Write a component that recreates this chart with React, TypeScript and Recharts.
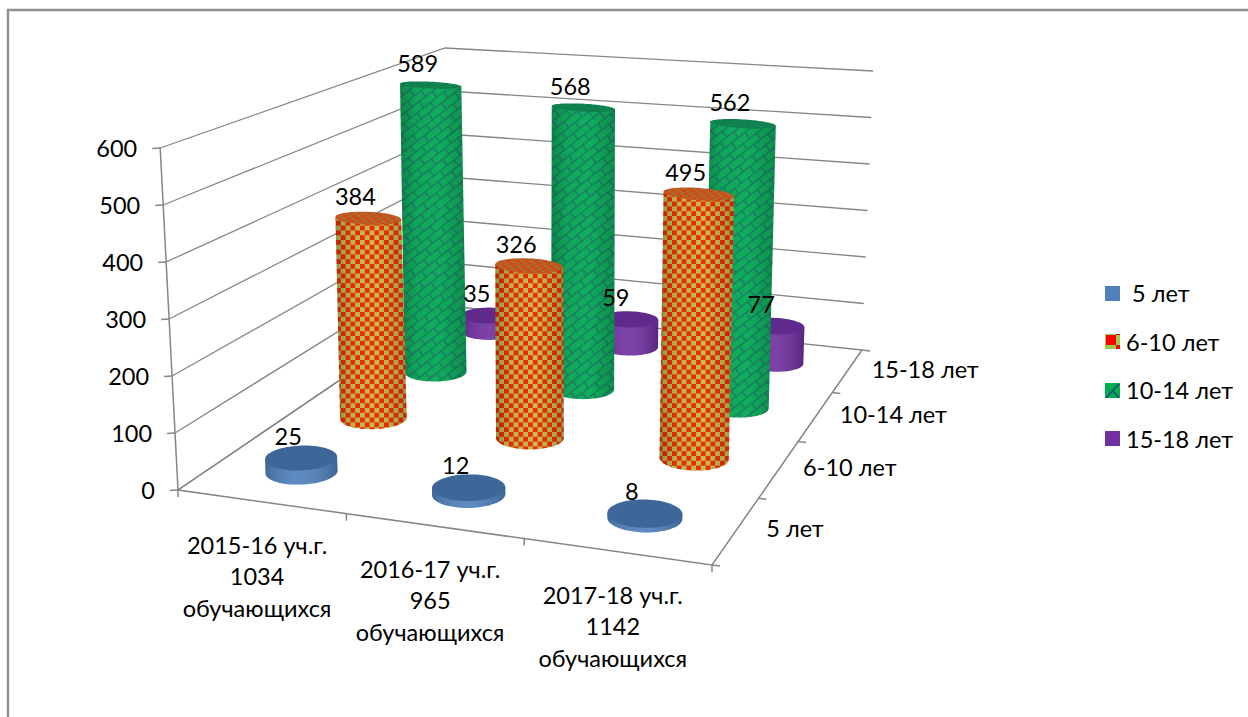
import { Bar, BarChart, CartesianGrid, Customized, LabelList, Legend, XAxis, YAxis } from "recharts";

const categories = ["2015-16 уч.г.", "2016-17 уч.г.", "2017-18 уч.г."];
const pupils = ["1034", "965", "1142"];
const pupilsWord = "обучающихся";
const ageGroups = [" 5 лет", "6-10 лет", "10-14 лет", "15-18 лет"];
const age5 = [25, 12, 8];
const age6to10 = [384, 326, 495];
const age10to14 = [589, 568, 562];
const age15to18 = [35, 59, 77];
const yTicks = [0, 100, 200, 300, 400, 500, 600];

const data = categories.map((name, i) => ({
  name,
  pupils: pupils[i],
  age5: age5[i],
  age6to10: age6to10[i],
  age10to14: age10to14[i],
  age15to18: age15to18[i],
}));

const W = 1248;
const H = 717;
const FONT = "Lato, 'Open Sans', sans-serif";
const FONT_SIZE = 23.5;
const LINE = "#868686";
const BAR_SIZE = 165;
const DEPTH_RADIUS = 0.052;

type Pt = [number, number];

// square -> quad homography, the flat recharts plot gets warped through this
const quadMap = (p0: Pt, p1: Pt, p2: Pt, p3: Pt) => {
  const dx1 = p1[0] - p2[0];
  const dx2 = p3[0] - p2[0];
  const sx = p0[0] - p1[0] + p2[0] - p3[0];
  const dy1 = p1[1] - p2[1];
  const dy2 = p3[1] - p2[1];
  const sy = p0[1] - p1[1] + p2[1] - p3[1];
  const den = dx1 * dy2 - dx2 * dy1;
  const g = (sx * dy2 - dx2 * sy) / den;
  const h = (dx1 * sy - sx * dy1) / den;
  const a = p1[0] - p0[0] + g * p1[0];
  const b = p3[0] - p0[0] + h * p3[0];
  const d = p1[1] - p0[1] + g * p1[1];
  const e = p3[1] - p0[1] + h * p3[1];
  return (u: number, v: number): Pt => {
    const w = g * u + h * v + 1;
    return [(a * u + b * v + p0[0]) / w, (d * u + e * v + p0[1]) / w];
  };
};

const floorMap = quadMap([178, 490], [712, 565], [862, 350], [449, 306]);

// wall height in px at the floor corners, verticals lean away from x=566
const project = (u: number, v: number, t: number): Pt => {
  const [x, y] = floorMap(u, v);
  const front = 342 + (348 - 342) * u;
  const back = 258 + (279 - 258) * u;
  const h = front + (back - front) * v;
  const lean = 0.000134 * (x - 566);
  return [x + lean * h * t, y - h * t];
};

const toPath = (pts: Pt[]) => pts.map((p, i) => `${i ? "L" : "M"}${p[0].toFixed(1)} ${p[1].toFixed(1)}`).join(" ");

const toU = (x: number) => (x - 1) / W;

const makeCylinder = (depth: number, sideFill: string, topFill: string, glossId: string) => (props: any) => {
  const { x, y, width, height } = props;
  const u = toU(x + width / 2);
  const ru = width / W / 2;
  const v = (depth + 0.5) / 4;
  const tTop = 1 - y / H;
  const tBase = 1 - (y + height) / H;
  const ring = (t: number) => {
    const pts: Pt[] = [];
    for (let i = 0; i < 72; i++) {
      const a = (i / 72) * Math.PI * 2;
      // ellipses get flatter going up towards eye level
      pts.push(project(u + ru * Math.cos(a), v + DEPTH_RADIUS * (1 - 0.4 * t) * Math.sin(a), t));
    }
    return pts;
  };
  const topRing = ring(tTop);
  const baseRing = ring(tBase);
  const extreme = (pts: Pt[], sign: number) =>
    pts.reduce((best, p, i) => (sign * p[0] > sign * pts[best][0] ? i : best), 0);
  const il = extreme(baseRing, -1);
  const ir = extreme(baseRing, 1);
  // front arc of the base, the one hanging lower on screen
  const walk = (step: number) => {
    const out: Pt[] = [];
    for (let i = il; ; i = (i + step + 72) % 72) {
      out.push(baseRing[i]);
      if (i === ir) break;
    }
    return out;
  };
  const meanY = (pts: Pt[]) => pts.reduce((s, p) => s + p[1], 0) / pts.length;
  const a1 = walk(1);
  const a2 = walk(-1);
  const arc = meanY(a1) > meanY(a2) ? a1 : a2;
  const side = [topRing[extreme(topRing, -1)], ...arc, topRing[extreme(topRing, 1)]];
  const sidePath = toPath(side) + " Z";
  const topPath = toPath(topRing) + " Z";
  return (
    <g>
      <path d={sidePath} fill={sideFill} />
      <path d={sidePath} fill={`url(#${glossId})`} />
      <path d={topPath} fill={topFill} />
    </g>
  );
};

const makeLabel = (depth: number) => (props: any) => {
  const { x, y, width, value } = props;
  const p = project(toU(x + width / 2), (depth + 0.5) / 4, 1 - y / H);
  return (
    <text x={p[0] - 13} y={p[1] - 22} textAnchor="middle" dominantBaseline="central" fontFamily={FONT} fontSize={FONT_SIZE} fill="#000">
      {value}
    </text>
  );
};

const YTick = (props: any) => {
  const t = props.payload.value / 600;
  const p = project(0, 0, t);
  return (
    <g>
      <line x1={p[0] - 8} y1={p[1] + 0.5} x2={p[0]} y2={p[1]} stroke={LINE} strokeWidth={1.4} />
      <text x={p[0] - 23} y={p[1]} textAnchor="end" dominantBaseline="central" fontFamily={FONT} fontSize={FONT_SIZE} fill="#000">
        {props.payload.value}
      </text>
    </g>
  );
};

const XTick = (props: any) => {
  const i = props.index;
  const p = project(toU(props.x), 0, 0);
  const lines = [props.payload.value, pupils[i], pupilsWord];
  return (
    <text x={p[0] - 4} y={p[1] + 43} textAnchor="middle" dominantBaseline="central" fontFamily={FONT} fontSize={FONT_SIZE} fill="#000">
      {lines.map((l, k) => (
        <tspan key={k} x={p[0] - 4} dy={k ? 31.5 : 0}>
          {l}
        </tspan>
      ))}
    </text>
  );
};

const GridLine = (props: any) => {
  const t = 1 - props.y1 / H;
  return (
    <path
      key={props.key}
      d={toPath([project(0, 0, t), project(0, 1, t), project(1, 1, t)])}
      fill="none"
      stroke={LINE}
      strokeWidth={1.3}
    />
  );
};

const Backdrop = () => {
  const edge = (pts: Pt[], key: string) => <path key={key} d={toPath(pts)} fill="none" stroke={LINE} strokeWidth={1.5} />;
  const uTicks = [0, 1, 2, 3].map((k) => {
    const p = project(k / 3, 0, 0);
    return edge([p, [p[0], p[1] + 7]], `u${k}`);
  });
  const vTicks = [0, 1, 2, 3, 4].map((k) => {
    const p = project(1, k / 4, 0);
    return edge([p, [p[0] + 8, p[1] + 1]], `v${k}`);
  });
  return (
    <g>
      <defs>
        <pattern id="checker" width={9.6} height={9.6} patternUnits="userSpaceOnUse">
          <rect width={9.6} height={9.6} fill="#bcc24a" />
          <rect width={4.8} height={4.8} fill="#f9280a" />
          <rect x={4.8} y={4.8} width={4.8} height={4.8} fill="#f9280a" />
        </pattern>
        <pattern id="checkerTop" width={9} height={5} patternUnits="userSpaceOnUse" patternTransform="skewX(-30)">
          <rect width={9} height={5} fill="#a3702a" />
          <rect width={4.5} height={2.5} fill="#d9421a" />
          <rect x={4.5} y={2.5} width={4.5} height={2.5} fill="#d9421a" />
        </pattern>
        <pattern id="shingle" width={17} height={15} patternUnits="userSpaceOnUse" patternTransform="rotate(-38)">
          <rect width={17} height={15} fill="#0fae5b" />
          <path d="M0 0.5H17M0 8H17M4 0.5V8M12.5 8V15" stroke="#1c7a68" strokeWidth={1.4} fill="none" />
        </pattern>
        <pattern id="shingleTop" width={14} height={6} patternUnits="userSpaceOnUse" patternTransform="rotate(-20)">
          <rect width={14} height={6} fill="#0c8a4a" />
          <path d="M0 0.5H14M0 3.5H14" stroke="#176f57" strokeWidth={1} fill="none" />
        </pattern>
        <linearGradient id="glossDark" x1="0" x2="1" y1="0" y2="0">
          <stop offset="0" stopColor="#000" stopOpacity={0.22} />
          <stop offset="0.25" stopColor="#000" stopOpacity={0.04} />
          <stop offset="0.6" stopColor="#000" stopOpacity={0} />
          <stop offset="1" stopColor="#000" stopOpacity={0.18} />
        </linearGradient>
        <linearGradient id="glossLight" x1="0" x2="1" y1="0" y2="0">
          <stop offset="0" stopColor="#000" stopOpacity={0.18} />
          <stop offset="0.45" stopColor="#fff" stopOpacity={0.08} />
          <stop offset="1" stopColor="#000" stopOpacity={0.22} />
        </linearGradient>
      </defs>
      <path d="M8 717V10H1248" fill="none" stroke="#8f8f8f" strokeWidth={2.4} />
      {edge([project(0, 0, 1), project(0, 0, 0), project(1, 0, 0), project(1, 1, 0)], "frame")}
      {edge([project(0, 0, 0), project(0, 1, 0)], "leftFloor")}
      {uTicks}
      {vTicks}
      {ageGroups.map((g, k) => {
        const p = project(1, (k + 0.5) / 4, 0);
        return (
          <text key={g} x={p[0] + 24} y={p[1] - 2} dominantBaseline="central" fontFamily={FONT} fontSize={FONT_SIZE} fill="#000" style={{ whiteSpace: "pre" }}>
            {g}
          </text>
        );
      })}
    </g>
  );
};

const Swatch = ({ index }: { index: number }) => {
  if (index === 1) {
    return (
      <>
        <rect width={15} height={15} fill="#9fcc4c" />
        <rect x={1} y={1} width={10} height={10} fill="#ff0000" />
        <rect x={11} width={4} height={1} fill="#c00000" />
        <rect x={11} y={11} width={4} height={4} fill="#ff0000" />
      </>
    );
  }
  if (index === 2) {
    return (
      <>
        <rect width={15} height={15} fill="#00b050" />
        <path d="M1 15L11 4L14 1M8 8L14 15" stroke="#1f4e79" strokeWidth={1.8} fill="none" />
      </>
    );
  }
  return <rect width={15} height={15} fill={index === 0 ? "#4f81bd" : "#7030a0"} />;
};

const LegendBox = () => (
  <div style={{ fontFamily: FONT, fontSize: FONT_SIZE, color: "#000" }}>
    {ageGroups.map((g, i) => (
      <div key={g} style={{ height: 48.5, display: "flex", alignItems: "center" }}>
        <svg width={15} height={15} style={{ marginRight: 6 }}>
          <Swatch index={i} />
        </svg>
        <span style={{ whiteSpace: "pre" }}>{g}</span>
      </div>
    ))}
  </div>
);

export default function App() {
  return (
    <div style={{ position: "absolute", left: 0, top: 0, width: W, height: H, background: "#fff", overflow: "hidden" }}>
      <BarChart width={W + 1} height={H + 1} data={data} margin={{ top: 0, right: 0, bottom: 0, left: 0 }} barSize={BAR_SIZE} barGap={-BAR_SIZE}>
        <Customized component={Backdrop} />
        <CartesianGrid vertical={false} horizontal={GridLine} />
        <XAxis dataKey="name" height={1} interval={0} axisLine={false} tickLine={false} tick={XTick} />
        <YAxis width={1} domain={[0, 600]} ticks={yTicks} interval={0} axisLine={false} tickLine={false} tick={YTick} />
        <Legend
          layout="vertical"
          align="center"
          verticalAlign="middle"
          wrapperStyle={{ left: 1105, top: 269, width: 143 }}
          content={LegendBox}
        />
        <Bar dataKey="age15to18" name={ageGroups[3]} isAnimationActive={false} shape={makeCylinder(3, "#7030a0", "#5f2a8c", "glossLight")}>
          <LabelList dataKey="age15to18" content={makeLabel(3)} />
        </Bar>
        <Bar dataKey="age10to14" name={ageGroups[2]} isAnimationActive={false} shape={makeCylinder(2, "url(#shingle)", "url(#shingleTop)", "glossDark")}>
          <LabelList dataKey="age10to14" content={makeLabel(2)} />
        </Bar>
        <Bar dataKey="age6to10" name={ageGroups[1]} isAnimationActive={false} shape={makeCylinder(1, "url(#checker)", "url(#checkerTop)", "glossDark")}>
          <LabelList dataKey="age6to10" content={makeLabel(1)} />
        </Bar>
        <Bar dataKey="age5" name={ageGroups[0]} isAnimationActive={false} shape={makeCylinder(0, "#4f81bd", "#3d6799", "glossLight")}>
          <LabelList dataKey="age5" content={makeLabel(0)} />
        </Bar>
      </BarChart>
    </div>
  );
}
